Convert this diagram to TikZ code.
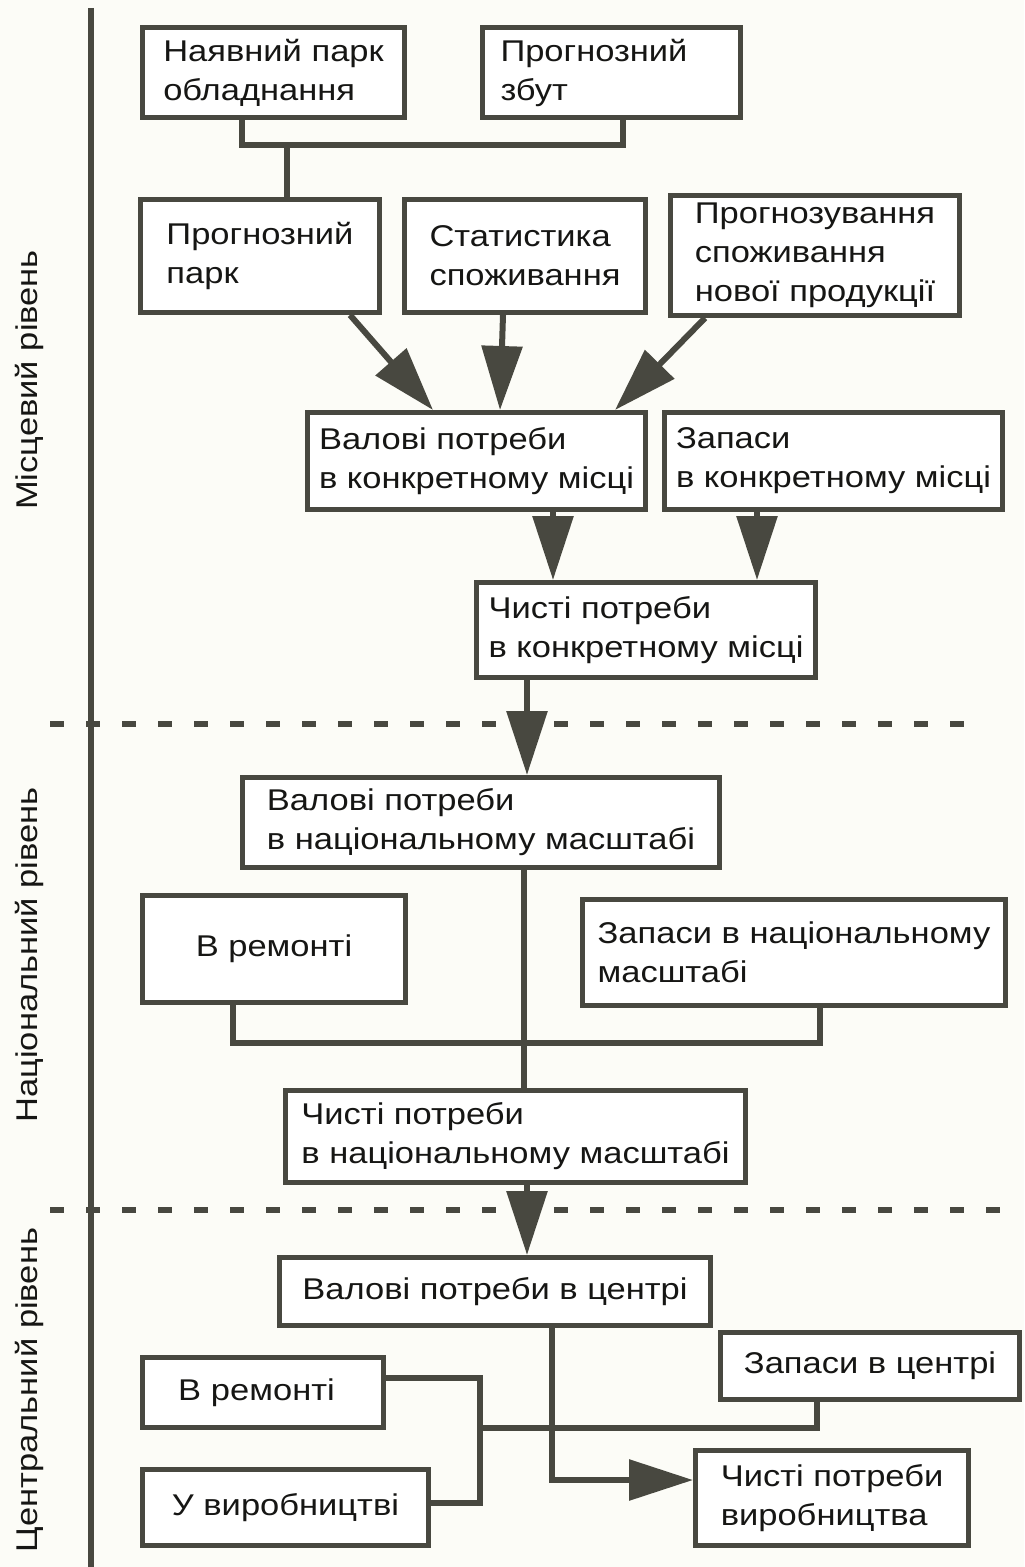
\documentclass[tikz,border=0pt]{standalone}
\usepackage{fontspec}
\setmainfont[FakeStretch=1.15]{Liberation Sans}
\usetikzlibrary{arrows.meta}
\definecolor{lin}{RGB}{72,72,64}
\definecolor{tlo}{RGB}{252,252,247}
\definecolor{tekst}{RGB}{22,22,20}
\tikzset{
  blok/.style={draw=lin,line width=2.5pt,fill=white,align=left,inner sep=2pt,text=tekst,
               font=\fontsize{15}{19.5}\selectfont},
  wh/.style 2 args={minimum width=#1*0.5pt,minimum height=#2*0.5pt},
  zvyaz/.style={draw=lin,line width=3pt},
  strilka/.style={draw=lin,line width=3pt,-{Triangle[length=32pt,width=20pt]}},
  mezha/.style={draw=lin,line width=3pt,dash pattern=on 7pt off 11pt},
  riven/.style={rotate=90,text=tekst,font=\fontsize{15}{18}\selectfont},
}
\begin{document}
\begin{tikzpicture}[x=0.5pt,y=-0.5pt]
  \fill[tlo] (0,0) rectangle (1024,1567);
  \useasboundingbox (0,0) rectangle (1024,1567);
  % osi ta mezhi rivniv
  \draw[draw=lin,line width=3pt] (91,8) -- (91,1567);
  \draw[mezha] (50,724) -- (975,724);
  \draw[mezha] (50,1210) -- (1000,1210);
  \node[riven] (rmisc) at (29,380) {Місцевий рівень};
  \node[riven] (rnac) at (29,955) {Національний рівень};
  \node[riven] (rcen) at (29,1390) {Центральний рівень};
  % 1. mistsevyi riven
  \node[blok,wh={262}{90}] (nayav) at (273.5,72.5) {Наявний парк\\обладнання};
  \node[blok,wh={258}{90},text width=111pt] (prozbut) at (611.5,72.5) {Прогнозний\\збут};
  \node[blok,wh={239}{113}] (progpark) at (260,256) {Прогнозний\\парк};
  \node[blok,wh={241}{113}] (stat) at (525,256) {Статистика\\споживання};
  \node[blok,wh={289}{120}] (prognov) at (815,255.5) {Прогнозування\\споживання\\нової продукції};
  \node[blok,wh={338}{97}] (valmisc) at (476.5,461) {Валові потреби\\в конкретному місці};
  \node[blok,wh={338}{97}] (zapmisc) at (833.5,461) {Запаси\\в конкретному місці};
  \node[blok,wh={339}{95}] (chmisc) at (646,630) {Чисті потреби\\в конкретному місці};
  \coordinate (v1) at (287,145);
  \draw[zvyaz] (nayav.south -| 242,0) |- (v1) -| (prozbut.south -| 623,0);
  \draw[zvyaz] (v1) -- (progpark.north -| v1);
  \draw[strilka] (progpark.south -| 350,0) -- (valmisc.north -| 433,0);
  \draw[strilka] (stat.south -| 503,0) -- (valmisc.north -| 500,0);
  \draw[strilka] (prognov.south -| 705,0) -- (valmisc.north -| 615,0);
  \draw[strilka] (valmisc.south -| 553,0) -- (chmisc.north -| 553,0);
  \draw[strilka] (zapmisc.south -| 757,0) -- (chmisc.north -| 757,0);
  % 2. natsionalnyi riven
  \node[blok,wh={477}{90}] (valnac) at (481,822.5) {Валові потреби\\в національному масштабі};
  \node[blok,wh={263}{107}] (remnac) at (274,949) {В ремонті};
  \node[blok,wh={423}{106}] (zapnac) at (794,952.5) {Запаси в національному\\масштабі};
  \node[blok,wh={460}{92}] (chnac) at (515.5,1136.5) {Чисті потреби\\в національному масштабі};
  \draw[strilka] (chmisc.south -| 527,0) -- (valnac.north -| 527,0);
  \draw[zvyaz] (valnac.south -| 524,0) -- (chnac.north -| 524,0);
  \coordinate (v2) at (524,1043);
  \draw[zvyaz] (remnac.south -| 233,0) |- (v2) -| (zapnac.south -| 820,0);
  % 3. tsentralnyi riven
  \node[blok,wh={431}{68}] (valcen) at (495,1291.5) {Валові потреби в центрі};
  \node[blok,wh={299}{67}] (zapcen) at (870,1366) {Запаси в центрі};
  \node[blok,wh={241}{70},text width=85pt] (remcen) at (263,1392.5) {В ремонті};
  \node[blok,wh={286}{76}] (vyrob) at (285.5,1507.5) {У виробництві};
  \node[blok,wh={273}{95}] (chvyr) at (832,1498) {Чисті потреби\\виробництва};
  \draw[strilka] (chnac.south -| 527,0) -- (valcen.north -| 527,0);
  \draw[strilka] (valcen.south -| 552,0) |- (chvyr.west |- 0,1480);
  \coordinate (v3) at (480,1428);
  \draw[zvyaz] (remcen.east |- 0,1378) -| (v3) |- (vyrob.east |- 0,1503);
  \draw[zvyaz] (v3) -| (zapcen.south -| 817,0);
\end{tikzpicture}
\end{document}
